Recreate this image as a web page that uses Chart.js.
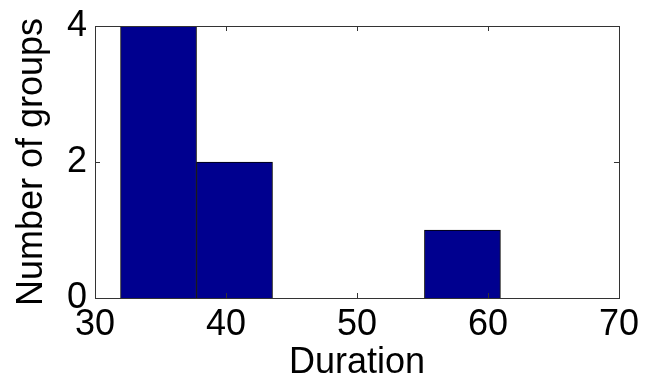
<!DOCTYPE html>
<html>
<head>
<meta charset="utf-8">
<script src="https://cdn.jsdelivr.net/npm/chart.js@4/dist/chart.umd.min.js"></script>
<style>
  html, body { margin: 0; padding: 0; background: #fff; }
  #wrap { width: 648px; height: 381px; }
</style>
</head>
<body>
<div id="wrap"><canvas id="histChart"></canvas></div>
<script>
// histogram bins (centres) and counts
const binCenters = [34.85, 40.65, 46.45, 52.25, 58.05];
const counts = [4, 2, 0, 0, 1];
const xTicks = [30, 40, 50, 60, 70];
const yTicks = [0, 2, 4];

const font = { family: '"Liberation Sans", Arial, sans-serif', size: 36, lineHeight: 1 };

// MATLAB style box with inward ticks on all sides
const boxTicks = {
  id: 'boxTicks',
  afterDraw(chart) {
    const { ctx, chartArea: a, scales } = chart;
    const len = 5;
    ctx.save();
    ctx.strokeStyle = '#333';
    ctx.lineWidth = 1;
    ctx.beginPath();
    xTicks.forEach(v => {
      const px = Math.round(scales.x.getPixelForValue(v)) + 0.5;
      ctx.moveTo(px, a.bottom); ctx.lineTo(px, a.bottom - len);
      ctx.moveTo(px, a.top); ctx.lineTo(px, a.top + len);
    });
    yTicks.forEach(v => {
      const py = Math.round(scales.y.getPixelForValue(v)) + 0.5;
      ctx.moveTo(a.left, py); ctx.lineTo(a.left + len, py);
      ctx.moveTo(a.right, py); ctx.lineTo(a.right - len, py);
    });
    ctx.stroke();
    ctx.strokeRect(Math.round(a.left) + 0.5, Math.round(a.top) + 0.5,
      Math.round(a.right - a.left), Math.round(a.bottom - a.top));
    ctx.restore();
  }
};

new Chart(document.getElementById('histChart'), {
  type: 'bar',
  data: {
    datasets: [{
      data: binCenters.map((c, i) => ({ x: c, y: counts[i] })),
      backgroundColor: '#00008f',
      borderColor: '#000',
      borderWidth: 1,
      borderSkipped: 'start',
      barPercentage: 1,
      categoryPercentage: 1
    }]
  },
  options: {
    responsive: true,
    maintainAspectRatio: false,
    animation: false,
    layout: { padding: { top: 25, right: 26, left: 0, bottom: 0 } },
    plugins: { legend: { display: false }, tooltip: { enabled: false } },
    scales: {
      x: {
        type: 'linear',
        min: 30, max: 70,
        offset: false,
        afterBuildTicks: s => { s.ticks = xTicks.map(v => ({ value: v })); },
        afterFit: s => { s.height = 83; },
        grid: { display: false, drawTicks: false },
        border: { display: false },
        ticks: { color: '#000', font, padding: 9, maxRotation: 0 },
        title: { display: true, text: 'Duration', color: '#000', font, padding: 0 }
      },
      y: {
        min: 0, max: 4,
        afterBuildTicks: s => { s.ticks = yTicks.map(v => ({ value: v })); },
        afterFit: s => { s.width = 95; },
        grid: { display: false, drawTicks: false },
        border: { display: false },
        ticks: { color: '#000', font, padding: 8 },
        title: { display: true, text: 'Number of groups', color: '#000', font, padding: { top: 14, bottom: 0 } }
      }
    }
  },
  plugins: [boxTicks]
});
</script>
</body>
</html>
